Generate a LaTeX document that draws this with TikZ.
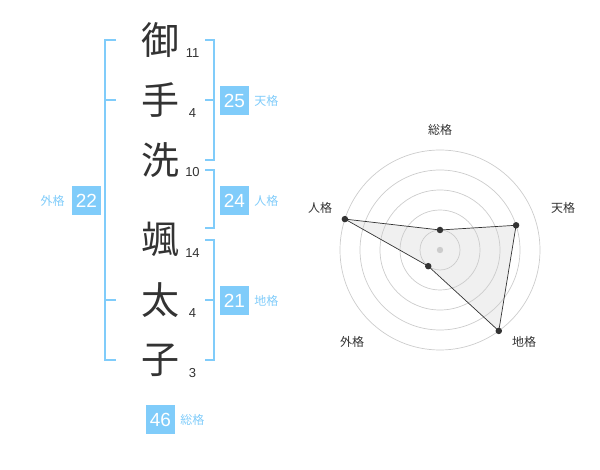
\documentclass[tikz,border=0pt]{standalone}
\usepackage{fontspec}
\setmainfont{Liberation Sans}
\newfontfamily\jp{Noto Sans CJK JP}
\usetikzlibrary{positioning,calc}
\definecolor{kakublue}{RGB}{128,204,250}
\definecolor{ink}{RGB}{51,51,51}
\definecolor{ringgray}{RGB}{204,204,204}
\definecolor{areagray}{RGB}{240,240,240}

\begin{document}
\begin{tikzpicture}[x=1pt, y=-1pt,
    kanji/.style={font=\jp\fontsize{38}{38}\selectfont, text=ink, inner sep=0pt},
    strokes/.style={font=\fontsize{13}{13}\selectfont, text=ink, inner sep=0pt},
    kakubox/.style={fill=kakublue, text=white, font=\fontsize{19}{19}\selectfont, minimum size=29pt, inner sep=0pt},
    kakulabel/.style={font=\jp\fontsize{12}{12}\selectfont, text=kakublue, inner sep=0pt},
    bracket/.style={draw=kakublue, line width=2pt},
    ring/.style={draw=ringgray, line width=0.7pt},
    axislabel/.style={font=\jp\fontsize{12}{12}\selectfont, text=ink, inner sep=0pt},
    dot/.style={circle, fill=ink, inner sep=0pt, minimum size=6.5pt}]
    \useasboundingbox (0,0) rectangle (600,470);

    % name
    \node[kanji] (k1) at (160,40) {御};
    \node[kanji] (k2) at (160,100) {手};
    \node[kanji] (k3) at (160,160) {洗};
    \node[kanji] (k4) at (160,240) {颯};
    \node[kanji] (k5) at (160,300) {太};
    \node[kanji] (k6) at (160,360) {子};

    \node[strokes] (n1) at (192.5,53) {11};
    \node[strokes] (n2) at (192.5,113) {4};
    \node[strokes] (n3) at (192.5,172) {10};
    \node[strokes] (n4) at (192.5,253) {14};
    \node[strokes] (n5) at (192.5,313) {4};
    \node[strokes] (n6) at (192.5,373) {3};

    % brackets
    \draw[bracket] (116,40) -- (105,40) -- (105,360) -- (116,360);
    \draw[bracket] (105,100) -- (116,100);
    \draw[bracket] (105,300) -- (116,300);

    \draw[bracket] (205,40) -- (214,40) -- (214,160) -- (205,160);
    \draw[bracket] (205,100) -- (214,100);
    \draw[bracket] (205,170) -- (214,170) -- (214,228) -- (205,228);
    \draw[bracket] (205,240) -- (214,240) -- (214,360) -- (205,360);
    \draw[bracket] (205,300) -- (214,300);

    \node[kakubox] (ten) at (234.5,100.5) {25};
    \node[kakulabel, right=5pt of ten] (tenL) {天格};
    \node[kakubox] (jin) at (234.5,200.5) {24};
    \node[kakulabel, right=5pt of jin] (jinL) {人格};
    \node[kakubox] (chi) at (234.5,300.5) {21};
    \node[kakulabel, right=5pt of chi] (chiL) {地格};
    \node[kakubox] (gai) at (86.5,200.5) {22};
    \node[kakulabel, left=7pt of gai] (gaiL) {外格};
    \node[kakubox] (sou) at (160.5,419.5) {46};
    \node[kakulabel, right=5pt of sou] (souL) {総格};

    % radar
    \coordinate (c) at (440,250);
    \coordinate (pSou) at ($(c)+(-90:20)$);
    \coordinate (pTen) at ($(c)+(-18:80)$);
    \coordinate (pChi) at ($(c)+(54:100)$);
    \coordinate (pGai) at ($(c)+(126:20)$);
    \coordinate (pJin) at ($(c)+(198:100)$);

    \fill[areagray] (pSou) -- (pTen) -- (pChi) -- (pGai) -- (pJin) -- cycle;
    \foreach \r in {20,40,...,100}
        \draw[ring] (c) circle (\r);
    \fill[ringgray] (c) circle (3.2);
    \draw[ink, line width=0.7pt] (pSou) -- (pTen) -- (pChi) -- (pGai) -- (pJin) -- cycle;
    \foreach \p in {pSou,pTen,pChi,pGai,pJin}
        \node[dot] at (\p) {};

    \node[axislabel] (aSou) at (440,130) {総格};
    \node[axislabel] (aTen) at (563,208) {天格};
    \node[axislabel] (aChi) at (524,342) {地格};
    \node[axislabel] (aGai) at (352,342) {外格};
    \node[axislabel] (aJin) at (320,208) {人格};
\end{tikzpicture}
\end{document}
